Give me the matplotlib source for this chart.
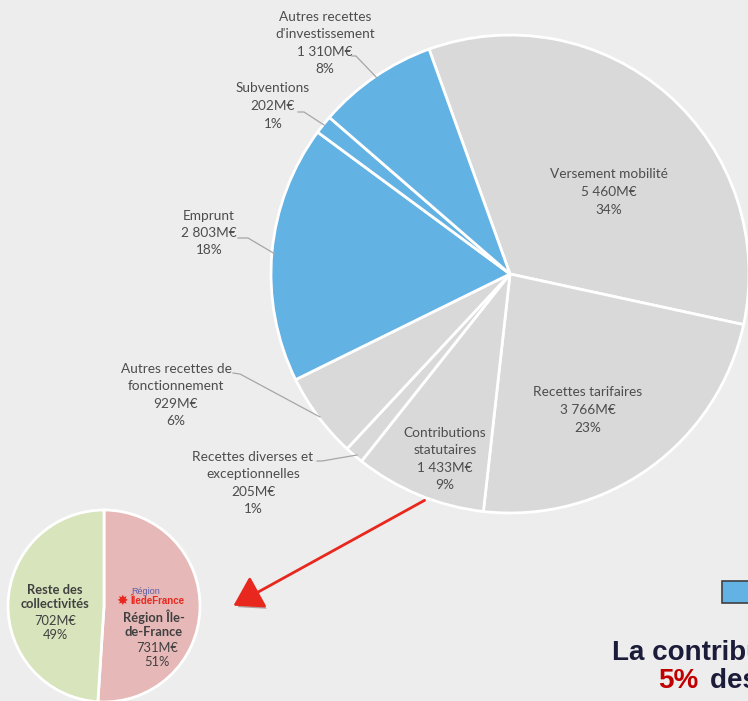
import matplotlib
matplotlib.use("Agg")
import matplotlib.pyplot as plt
from matplotlib.patches import Rectangle, FancyArrowPatch
import matplotlib.patheffects as pe

# ---- data ----
main_labels = ["Versement mobilité", "Recettes tarifaires", "Contributions\nstatutaires",
               "Recettes diverses et\nexceptionnelles", "Autres recettes de\nfonctionnement",
               "Emprunt", "Subventions", "Autres recettes\nd'investissement"]
main_values = [5460, 3766, 1433, 205, 929, 2803, 202, 1310]
main_value_txt = ["5 460M€", "3 766M€", "1 433M€", "205M€", "929M€", "2 803M€", "202M€", "1 310M€"]
main_pct = ["34%", "23%", "9%", "1%", "6%", "18%", "1%", "8%"]
main_is_invest = [False, False, False, False, False, True, True, True]

small_labels = ["Région Île-\nde-France", "Reste des\ncollectivités"]
small_values = [731, 702]
small_value_txt = ["731M€", "702M€"]
small_pct = ["51%", "49%"]

# ---- style ----
BG = "#EDEDED"
GREY = "#D9D9D9"
BLUE = "#63B2E4"
TXT = "#4D4D4D"
FONT = "Lato"

W, H = 748, 701
fig = plt.figure(figsize=(W / 100, H / 100), dpi=100, facecolor=BG)
ax = fig.add_axes([0, 0, 1, 1])
ax.set_facecolor(BG)

# y axis is inverted (pixel coordinates), so angles are mirrored
colors = [BLUE if b else GREY for b in main_is_invest]
ax.pie(main_values, colors=colors, startangle=-109.8, counterclock=True,
       center=(510, 274), radius=239,
       wedgeprops=dict(edgecolor="white", linewidth=2))

small_colors = ["#E6B8B7", "#D8E4BC"]
ax.pie(small_values, colors=small_colors, startangle=-90, counterclock=True,
       center=(104, 606), radius=96,
       wedgeprops=dict(edgecolor="white", linewidth=2))

ax.set_xlim(0, W)
ax.set_ylim(H, 0)
ax.set_aspect("equal")
ax.axis("off")

# label positions (text block centres, in pixels)
label_pos = [(609, 192), (588, 410), (445, 459), (253, 483),
             (176, 395), (209, 233), (273, 106), (325, 43)]
for lab, vt, pc, (x, y) in zip(main_labels, main_value_txt, main_pct, label_pos):
    ax.text(x, y, f"{lab}\n{vt}\n{pc}", ha="center", va="center", fontsize=9.8,
            family=FONT, color=TXT, linespacing=1.55)

# leader lines
leaders = [
    [(352, 56), (356, 56), (377, 78)],
    [(298, 112), (304, 112), (324, 125)],
    [(238, 238), (248, 238), (275, 254)],
    [(233, 373), (240, 374), (320, 417)],
    [(317, 461), (322, 461), (357, 455)],
]
for pts in leaders:
    xs, ys = zip(*pts)
    ax.plot(xs, ys, color="#A6A6A6", lw=0.9)

# small pie labels
SF = 9.3
ax.text(55, 597, small_labels[1], ha="center", va="center", fontsize=SF,
        family=FONT, color="#404040", fontweight="bold", linespacing=1.2)
ax.text(55, 628, f"{small_value_txt[1]}\n{small_pct[1]}", ha="center", va="center",
        fontsize=SF, family=FONT, color="#404040", linespacing=1.2)
ax.text(154, 624, small_labels[0], ha="center", va="center", fontsize=SF,
        family=FONT, color="#404040", fontweight="bold", linespacing=1.2)
ax.text(157, 655, f"{small_value_txt[0]}\n{small_pct[0]}", ha="center", va="center",
        fontsize=SF, family=FONT, color="#404040", linespacing=1.2)
# logo
ax.text(122, 601, "✸", ha="center", va="center", fontsize=10, color="#E8281E",
        family="DejaVu Sans")
ax.text(131, 592, "Région", ha="left", va="center", fontsize=6.5, color="#5B5EA6",
        family="Liberation Sans")
ax.text(130, 601.5, "ÎledeFrance", ha="left", va="center", fontsize=7, color="#E8281E",
        family="Liberation Sans", fontweight="bold")

# arrow
arr = FancyArrowPatch((427, 499), (231, 607), arrowstyle="-|>,head_length=8,head_width=5",
                      mutation_scale=2.2, color="#E8281E", lw=2,
                      path_effects=[pe.withSimplePatchShadow(offset=(1.5, -2), alpha=0.35)])
ax.add_patch(arr)

# legend box fragment
ax.add_patch(Rectangle((722, 581), 40, 22, facecolor=BLUE, edgecolor="#404040", lw=1.2,
                       clip_on=False))

# bottom text (cut by the right edge, as in the reference)
ax.text(612, 660, "La contribution de la Région", ha="left", va="baseline", fontsize=20,
        family="Liberation Sans", fontweight="bold", color="#1B1B3A")
ax.text(658, 688, "5%", ha="left", va="baseline", fontsize=20,
        family="Liberation Sans", fontweight="bold", color="#C00000")
ax.text(710, 688, "des recettes", ha="left", va="baseline", fontsize=20,
        family="Liberation Sans", fontweight="bold", color="#1B1B3A")

fig.savefig("out.png", dpi=100, facecolor=BG)
